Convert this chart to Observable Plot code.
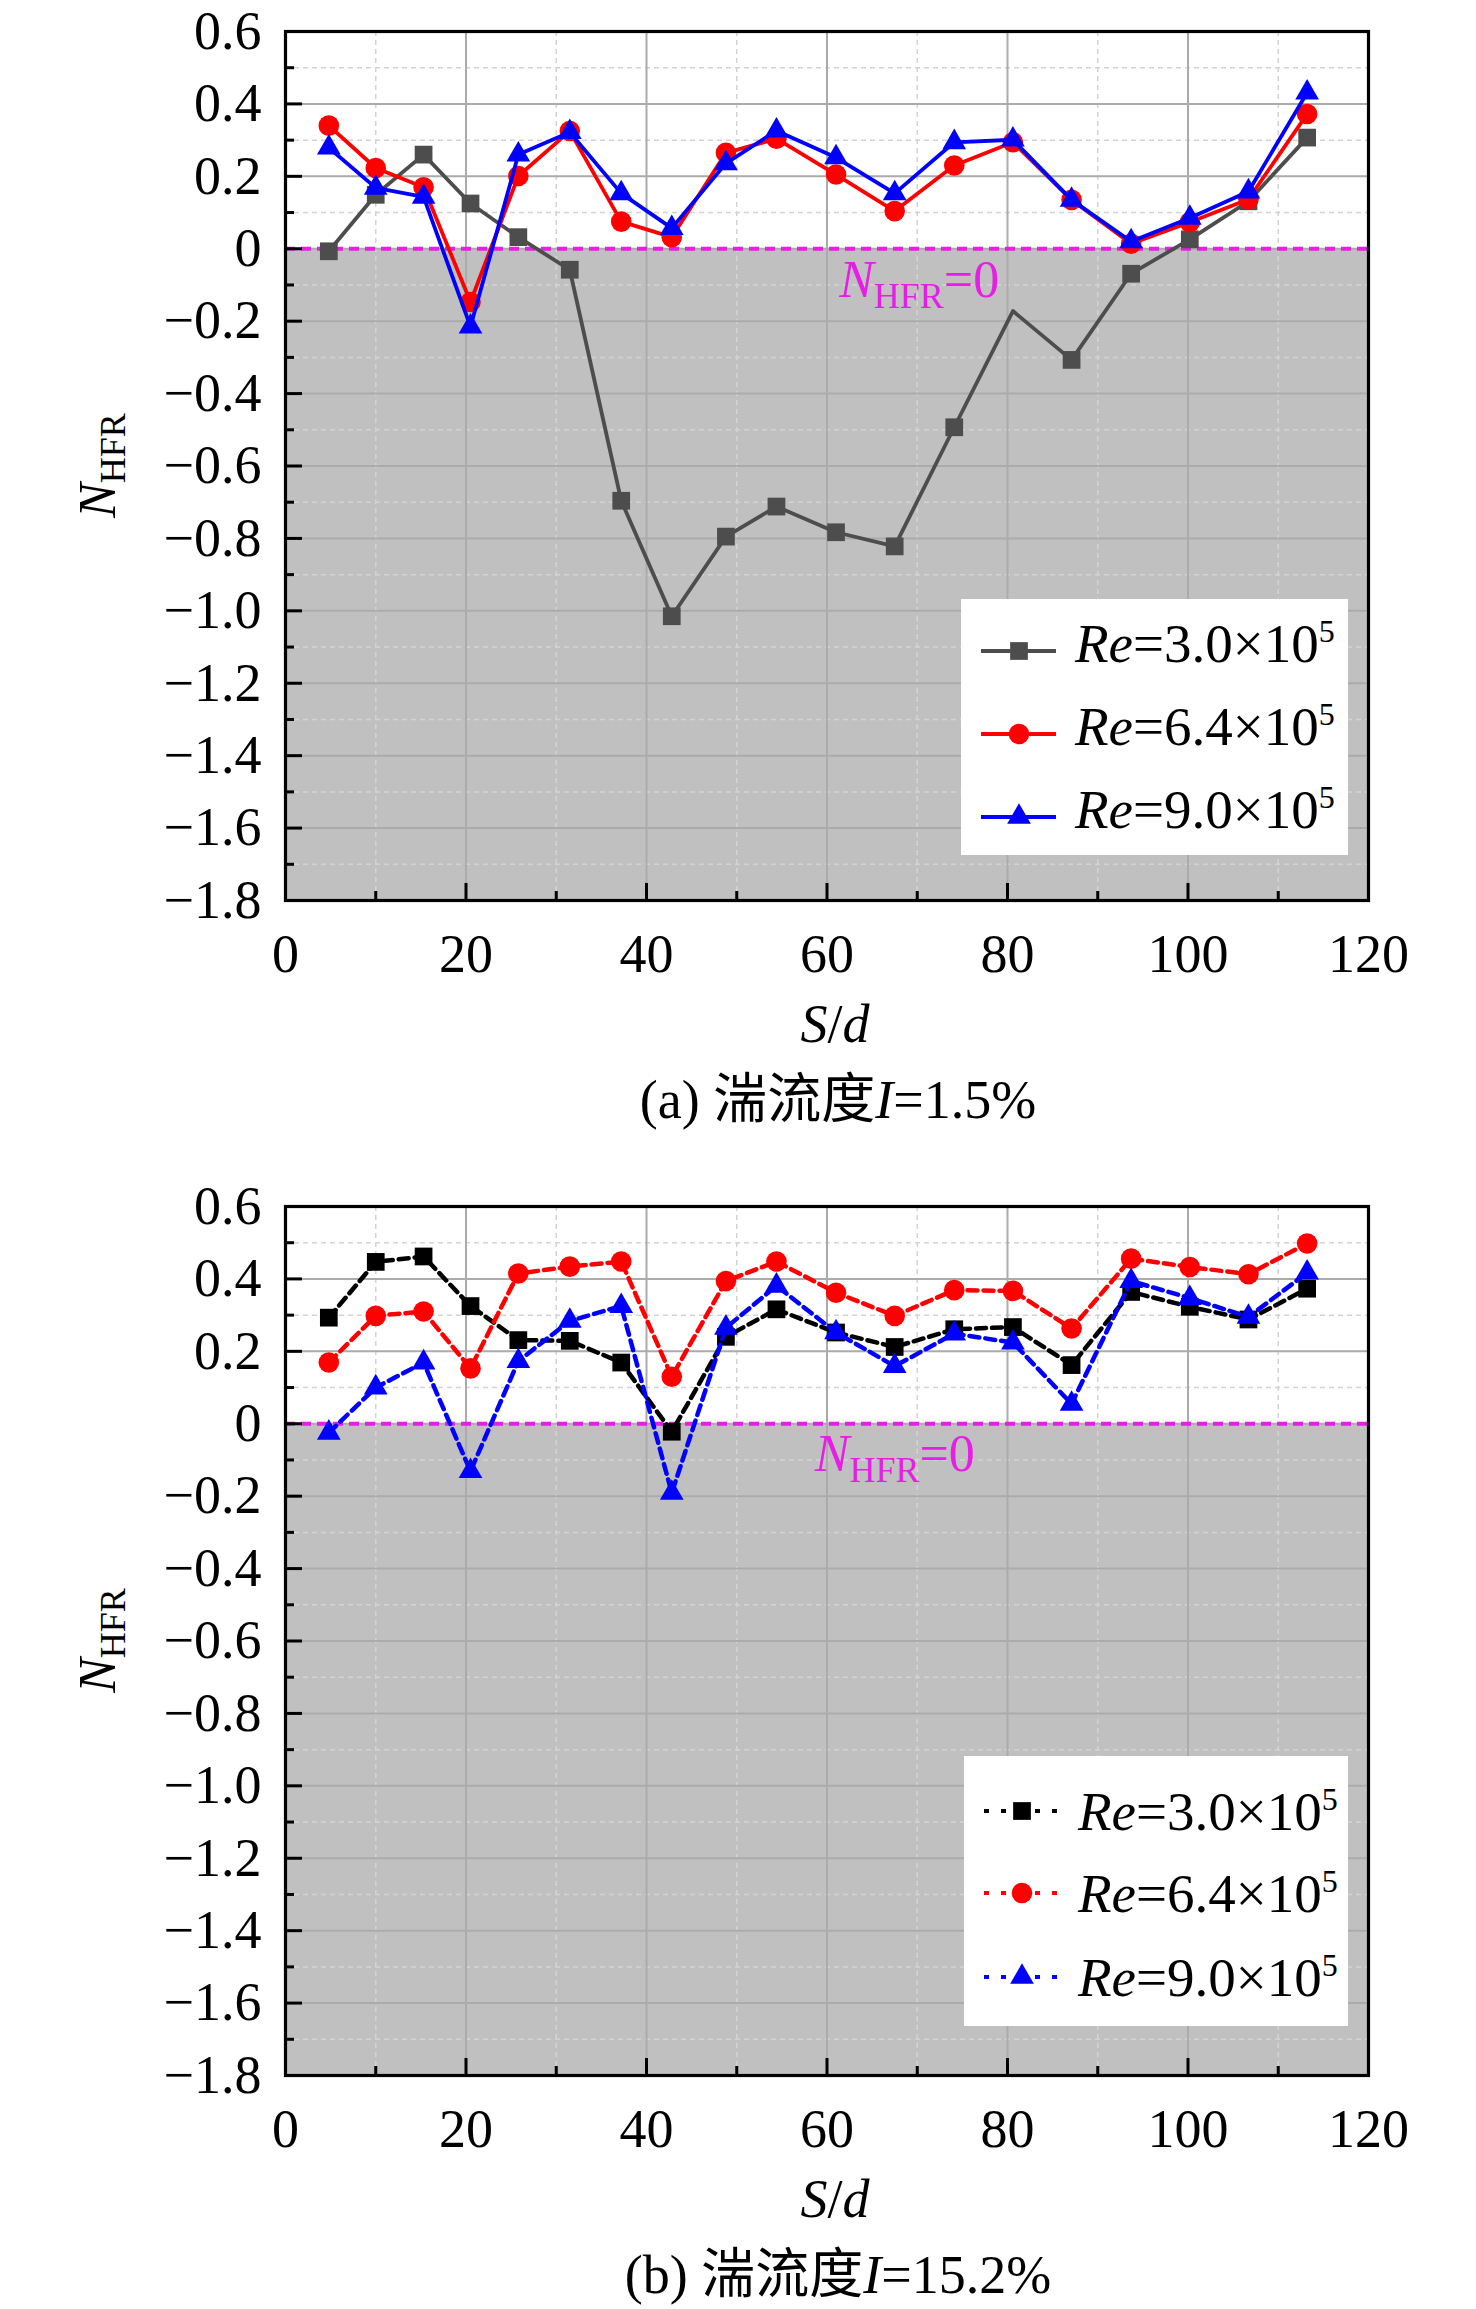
<!DOCTYPE html>
<html><head><meta charset="utf-8">
<script src="https://cdn.jsdelivr.net/npm/d3@7"></script>
<script src="https://cdn.jsdelivr.net/npm/@observablehq/plot@0.6"></script>
<style>
body{margin:0;background:#fff;}
#wrap{position:relative;width:1476px;height:2309px;overflow:hidden;}
#wrap svg{position:absolute;left:0;}
</style></head><body><div id="wrap"></div>
<script>
// ---------- data ----------
const sd = [4.8, 10.0, 15.3, 20.5, 25.8, 31.5, 37.2, 42.8, 48.8, 54.4, 61.0, 67.5, 74.1, 80.6, 87.1, 93.7, 100.2, 106.7, 113.2];
const reValues = ["3.0", "6.4", "9.0"];
const reExponent = "5";
// (a) I = 1.5%
const a_re30 = [-0.007, 0.149, 0.26, 0.125, 0.032, -0.058, -0.696, -1.015, -0.795, -0.712, -0.783, -0.822, -0.493, -0.172, -0.307, -0.069, 0.026, 0.131, 0.307];
const a_re64 = [0.34, 0.223, 0.170, -0.147, 0.201, 0.325, 0.075, 0.032, 0.265, 0.304, 0.205, 0.104, 0.23, 0.294, 0.135, 0.014, 0.073, 0.137, 0.372];
const a_re90 = [0.279, 0.168, 0.143, -0.215, 0.26, 0.322, 0.153, 0.057, 0.236, 0.326, 0.252, 0.153, 0.294, 0.301, 0.135, 0.02, 0.085, 0.158, 0.431];
const a_hiddenMarkers = [[80.6], [], []];
// (b) I = 15.2%
const b_re30 = [0.293, 0.447, 0.462, 0.325, 0.231, 0.229, 0.169, -0.022, 0.24, 0.316, 0.252, 0.212, 0.261, 0.267, 0.162, 0.364, 0.323, 0.288, 0.373];
const b_re64 = [0.169, 0.298, 0.31, 0.153, 0.415, 0.434, 0.448, 0.13, 0.394, 0.448, 0.362, 0.298, 0.369, 0.367, 0.263, 0.456, 0.433, 0.413, 0.498];
const b_re90 = [-0.025, 0.1, 0.169, -0.131, 0.173, 0.284, 0.325, -0.191, 0.265, 0.381, 0.252, 0.159, 0.249, 0.224, 0.055, 0.394, 0.347, 0.295, 0.417];
// axes
const xDomain = [0, 120];
const yDomain = [-1.8, 0.6];
const xTicks = [0, 20, 40, 60, 80, 100, 120];
const xMinor = [10, 30, 50, 70, 90, 110];
const yTicks = [0.6, 0.4, 0.2, 0, -0.2, -0.4, -0.6, -0.8, -1.0, -1.2, -1.4, -1.6, -1.8];
const yMinor = [0.5, 0.3, 0.1, -0.1, -0.3, -0.5, -0.7, -0.9, -1.1, -1.3, -1.5, -1.7];
const captions = [["(a) 湍流度", "I", "=1.5%"], ["(b) 湍流度", "I", "=15.2%"]];

// ---------- styling ----------
const FONT = '"Liberation Serif","Times New Roman","Noto Sans CJK SC",serif';
const MAGENTA = "#e61ee6";
const symbols = ["square", "circle", "triangle"];
const radii = [10, 10.3, 8.8];
const d3symbols = [d3.symbolSquare, d3.symbolCircle, d3.symbolTriangle];
const yFmt = d => d === 0 ? "0" : d3.format(".1f")(d);

function rich(sel, x, y, parts, opts = {}) {
  const t = sel.append("text")
    .attr("x", x).attr("y", y)
    .attr("font-family", FONT)
    .attr("font-size", opts.size || 54)
    .attr("fill", opts.fill || "black")
    .attr("text-anchor", opts.anchor || "start");
  if (opts.transform) t.attr("transform", opts.transform);
  for (const p of parts) {
    const s = t.append("tspan").text(p.t);
    if (p.italic) s.attr("font-style", "italic");
    if (p.size) s.attr("font-size", p.size);
    if (p.dy) s.attr("dy", p.dy);
  }
  return t;
}

function build(cfg) {
  const rows = cfg.series.flatMap((vals, k) => vals.map((v, i) => ({sd: sd[i], n: v, k})));
  const marks = [
    Plot.rect([0], {x1: xDomain[0], x2: xDomain[1], y1: yDomain[0], y2: 0, fill: "#c0c0c0"}),
    Plot.gridX(xMinor, {stroke: "#d3d3d3", strokeOpacity: 1, strokeWidth: 1.5, strokeDasharray: "5,4"}),
    Plot.gridY(yMinor, {stroke: "#d3d3d3", strokeOpacity: 1, strokeWidth: 1.5, strokeDasharray: "5,4"}),
    Plot.gridX(xTicks, {stroke: "#ababab", strokeOpacity: 1, strokeWidth: 2}),
    Plot.gridY(yTicks, {stroke: "#ababab", strokeOpacity: 1, strokeWidth: 2}),
    Plot.ruleY([0], {stroke: MAGENTA, strokeWidth: 4.2, strokeDasharray: "10,6"})
  ];
  cfg.series.forEach((vals, k) => {
    const d = rows.filter(r => r.k === k);
    marks.push(Plot.line(d, {x: "sd", y: "n", stroke: cfg.colors[k], strokeWidth: cfg.lineWidth, strokeDasharray: cfg.dash}));
    const hidden = cfg.hidden ? cfg.hidden[k] : [];
    marks.push(Plot.dot(d.filter(r => !hidden.includes(r.sd)), {x: "sd", y: "n", symbol: symbols[k], r: radii[k], fill: cfg.colors[k], stroke: "none"}));
  });
  marks.push(
    Plot.axisX(xTicks, {tickSize: -17, tickPadding: 50, strokeWidth: 3, fontSize: 54, label: null, tickFormat: d => String(d)}),
    Plot.axisX(xMinor, {tickSize: -9, strokeWidth: 3, label: null, tickFormat: () => ""}),
    Plot.axisY(yTicks, {tickSize: -17, tickPadding: 41, strokeWidth: 3, fontSize: 54, label: null, tickFormat: yFmt}),
    Plot.axisY(yMinor, {tickSize: -9, strokeWidth: 3, label: null, tickFormat: () => ""}),
    Plot.frame({stroke: "black", strokeWidth: 3.2})
  );
  const svg = Plot.plot({
    width: 1476, height: cfg.height,
    marginLeft: 285, marginRight: 108, marginTop: cfg.marginTop, marginBottom: cfg.marginBottom,
    x: {domain: xDomain, label: null},
    y: {domain: yDomain, label: null},
    style: {fontFamily: FONT, fontSize: "54px", background: "transparent", color: "black", overflow: "visible"},
    marks
  });
  svg.style.top = cfg.top + "px";
  const sx = svg.scale("x"), sy = svg.scale("y");
  const g = d3.select(svg).append("g");
  const fTop = sy.apply(yDomain[1]), fBot = sy.apply(yDomain[0]);
  // y label
  rich(g, 0, 0, [{t: "N", italic: true}, {t: "HFR", size: 36, dy: 10}], {size: 52, anchor: "middle", transform: `translate(115,${(fTop + fBot) / 2}) rotate(-90)`});
  // x label
  rich(g, 835, fBot + 142, [{t: "S", italic: true}, {t: "/"}, {t: "d", italic: true}], {size: 54, anchor: "middle"});
  // caption
  rich(g, 838, fBot + 218, [{t: cfg.caption[0]}, {t: cfg.caption[1], italic: true}, {t: cfg.caption[2]}], {size: 54, anchor: "middle"});
  // N_HFR = 0 annotation
  rich(g, sx.apply(cfg.ann[0]), sy.apply(cfg.ann[1]), [{t: "N", italic: true}, {t: "HFR", size: 36, dy: 11}, {t: "=0", dy: -11}], {size: 52, fill: MAGENTA});
  // legend
  const L = cfg.legend;
  const lg = g.append("g");
  lg.append("rect").attr("x", L.x).attr("y", fBot - L.bottom - L.h).attr("width", L.w).attr("height", L.h).attr("fill", "white");
  reValues.forEach((rv, k) => {
    const cy = fBot - L.rows[k];
    lg.append("line").attr("x1", L.x + 20).attr("x2", L.x + 95).attr("y1", cy).attr("y2", cy)
      .attr("stroke", cfg.colors[k]).attr("stroke-width", 3.8).attr("stroke-dasharray", cfg.legendDash || null);
    lg.append("path").attr("d", d3.symbol(d3symbols[k], radii[k] * radii[k] * Math.PI)())
      .attr("transform", `translate(${L.x + 58},${cy})`).attr("fill", cfg.colors[k]);
    rich(lg, L.x + 114, cy + L.textDy, [{t: "Re", italic: true}, {t: "=" + rv + "×10"}, {t: reExponent, size: 32, dy: -20}], {size: 55});
  });
  document.getElementById("wrap").appendChild(svg);
}

build({
  top: 0, height: 1150, marginTop: 31, marginBottom: 250,
  series: [a_re30, a_re64, a_re90], colors: ["#4d4d4d", "#ff0000", "#0000ff"],
  lineWidth: 3.8, dash: null, hidden: a_hiddenMarkers,
  caption: captions[0], ann: [61.4, -0.135],
  legend: {x: 961, w: 387, h: 256, bottom: 45, rows: [249, 166, 83], textDy: 11}
});
build({
  top: 1150, height: 1159, marginTop: 56, marginBottom: 234,
  series: [b_re30, b_re64, b_re90], colors: ["#000000", "#ff0000", "#0000ff"],
  lineWidth: 4.5, dash: "10,6", hidden: null, legendDash: "5,12",
  caption: captions[1], ann: [58.7, -0.131],
  legend: {x: 964, w: 384, h: 270, bottom: 49, rows: [264, 182, 98], textDy: 19}
});
</script></body></html>
